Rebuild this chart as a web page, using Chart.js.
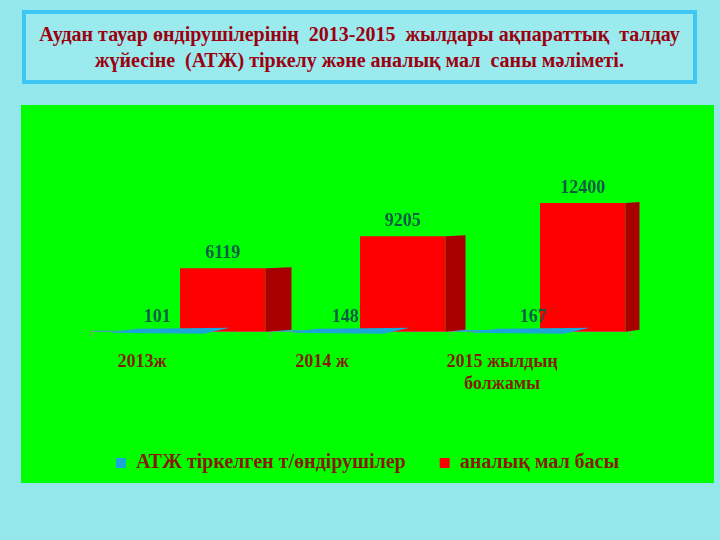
<!DOCTYPE html>
<html>
<head>
<meta charset="utf-8">
<script src="https://cdn.jsdelivr.net/npm/chart.js@4"></script>
<style>
  html, body { margin: 0; padding: 0; }
  body { width: 720px; height: 540px; background: #94e8ec; position: relative; overflow: hidden; }
  .title {
    position: absolute; left: 22px; top: 10px; width: 667px; height: 66px;
    border: 4px solid #3ec6f4; background: #9aeaee;
    display: flex; align-items: center; justify-content: center; text-align: center;
    font: bold 20px 'Liberation Serif', serif; line-height: 26px; color: #9c0010;
    white-space: pre;
  }
  .panel { position: absolute; left: 21px; top: 105px; width: 693px; height: 378px; background: #00ff00; }
  canvas { display: block; }
</style>
</head>
<body>
<div class="title">Аудан тауар өндірушілерінің  2013-2015  жылдары ақпараттық  талдау
жүйесіне  (АТЖ) тіркелу және аналық мал  саны мәліметі.</div>
<div class="panel"><canvas id="myChart" width="693" height="378"></canvas></div>
<script>
const categories = ['2013ж', '2014 ж', ['2015 жылдың', 'болжамы']];
const seriesNames = ['АТЖ тіркелген т/өндірушілер', 'аналық мал басы'];
const registered = [101, 148, 167];
const livestock = [6119, 9205, 12400];

// fake 3D: dark side face for red bars, flat tile for the blue ones, value labels
const bar3d = {
    id: 'bar3d',
    afterDatasetsDraw(chart) {
        const ctx = chart.ctx;
        ctx.save();
        chart.getSortedVisibleDatasetMetas().forEach(meta => {
            meta.data.forEach((bar, i) => {
                const {x, y, base, width} = bar.getProps(['x', 'y', 'base', 'width'], true);
                const l = x - width / 2, r = x + width / 2;
                const value = chart.data.datasets[meta.index].data[i];
                ctx.font = 'bold 18px "Liberation Serif", serif';
                ctx.textAlign = 'center';
                ctx.textBaseline = 'bottom';
                if (meta.index === 1) {
                    const d = 26 - 6 * i;
                    ctx.fillStyle = '#a80000';
                    ctx.beginPath();
                    ctx.moveTo(r, y);
                    ctx.lineTo(r + d, y - 1);
                    ctx.lineTo(r + d, base - 2);
                    ctx.lineTo(r, base);
                    ctx.closePath();
                    ctx.fill();
                    ctx.fillStyle = '#0c5a48';
                    ctx.fillText(value, x, y - 6);
                } else {
                    ctx.fillStyle = '#1aa6d8';
                    ctx.beginPath();
                    ctx.moveTo(l + 15, base + 1);
                    ctx.lineTo(l + 42, base - 3);
                    ctx.lineTo(r + 50, base - 4);
                    ctx.lineTo(r + 24, base + 2);
                    ctx.closePath();
                    ctx.fill();
                    ctx.fillStyle = '#0c5a48';
                    ctx.fillText(value, x + 20 + 8 * i, base - 5);
                }
            });
        });
        ctx.restore();
    }
};

const hiddenSide = (w) => ({
    display: true,
    grid: { display: false },
    border: { display: false },
    ticks: { display: false },
    afterFit(scale) { scale.width = w; }
});

const ctx = document.getElementById('myChart');
new Chart(ctx, {
    type: 'bar',
    data: {
        labels: categories,
        datasets: [{
            label: seriesNames[0],
            data: registered,
            backgroundColor: '#1aa6d8',
            borderWidth: 0
        }, {
            label: seriesNames[1],
            data: livestock,
            backgroundColor: '#ff0000',
            borderWidth: 0
        }]
    },
    options: {
        responsive: false,
        animation: false,
        devicePixelRatio: 1,
        layout: { padding: { left: 0, right: 0, top: 40, bottom: 0 } },
        categoryPercentage: 0.95,
        barPercentage: 1,
        plugins: {
            tooltip: { enabled: false },
            legend: {
                position: 'bottom',
                labels: {
                    boxWidth: 10,
                    boxHeight: 10,
                    padding: 34,
                    color: '#8a1800',
                    font: { family: 'Liberation Serif', size: 20, weight: 'bold' }
                }
            }
        },
        scales: {
            x: {
                grid: { display: true, drawOnChartArea: false, tickLength: 6, color: '#7f9a7a' },
                border: { display: true, color: '#7f9a7a' },
                ticks: {
                    color: '#8a1800',
                    padding: 14,
                    labelOffset: -38,
                    font: { family: 'Liberation Serif', size: 18, weight: 'bold' }
                },
                afterFit(scale) { scale.height += 10; }
            },
            y: { ...hiddenSide(69), position: 'left', min: 0, max: 18000 },
            yRight: { ...hiddenSide(84), position: 'right' }
        }
    },
    plugins: [bar3d]
});
</script>
</body>
</html>
